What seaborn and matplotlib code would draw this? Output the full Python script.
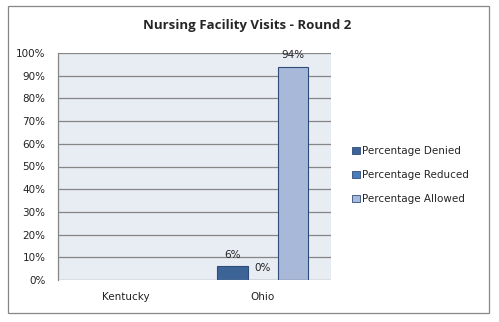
import numpy as np
import pandas as pd
import matplotlib
matplotlib.use("Agg")
import matplotlib.pyplot as plt
import seaborn as sns
from matplotlib.patches import Rectangle, Patch

categories = ["Kentucky", "Ohio"]
series = ["Percentage Denied", "Percentage Reduced", "Percentage Allowed"]
denied = [np.nan, 6]
reduced = [np.nan, 0]
allowed = [np.nan, 94]
yticks = [0, 10, 20, 30, 40, 50, 60, 70, 80, 90, 100]

colors = ["#3C6497", "#4A7EBB", "#A7B8D9"]

rows = []
for name, vals in zip(series, [denied, reduced, allowed]):
    for c, v in zip(categories, vals):
        rows.append({"State": c, "Series": name, "Value": v})
df = pd.DataFrame(rows)

sns.set_theme(style="white")
plt.rcParams['font.family'] = ['DejaVu Sans']

fig = plt.figure(figsize=(4.99, 3.22), dpi=100)
ax = fig.add_axes([58/499, 1-280/322, (331-58)/499, (280-53)/322])
ax.set_facecolor("#E8ECF3")

sns.barplot(data=df, x="State", y="Value", hue="Series", order=categories,
            hue_order=series, palette=colors, width=0.67, ax=ax,
            edgecolor="#2E4C7A", linewidth=0.8, legend=False, errorbar=None,
            saturation=1)

ax.set_ylim(0, 100)
ax.set_xlim(-0.5, 1.5)
ax.set_yticks(yticks)
ax.set_yticklabels([f"{t}%" for t in yticks], fontsize=7.5, color="#222222")
ax.tick_params(axis="y", length=0, pad=9)
ax.tick_params(axis="x", length=0, pad=9, labelsize=7.5, labelcolor="#222222")
ax.set_xlabel("")
ax.set_ylabel("")
for y in yticks[1:]:
    ax.axhline(y, color="#868686", lw=0.9, zorder=0.5)
for s in ["top", "right", "bottom"]:
    ax.spines[s].set_visible(False)
ax.spines["left"].set_color("#868686")
ax.spines["left"].set_linewidth(0.9)
ax.axhline(0, color="#868686", lw=0.9, zorder=3)

# value labels
for cont in ax.containers:
    for bar in cont:
        h = bar.get_height()
        if np.isnan(h):
            continue
        ax.text(bar.get_x() + bar.get_width()/2,
                h + 3.0, f"{h:.0f}%", ha="center", va="bottom",
                fontsize=7.5, color="#222222")

fig.text(0.495, 1-26/322, "Nursing Facility Visits - Round 2", ha="center",
         va="center", fontsize=9.5, fontweight="bold", family="Open Sans")

handles = [Patch(facecolor=c, edgecolor="#2E4C7A", linewidth=0.6) for c in colors]
fig.legend(handles, series, loc="center left", bbox_to_anchor=(343/499, 1-175/322),
           frameon=False, fontsize=7.5, handlelength=0.7, handleheight=0.7,
           handletextpad=0.25, labelspacing=1.35)

fig.patches.append(Rectangle((8/499, 1-313/322), 481/499, 307/322,
                             transform=fig.transFigure, fill=False,
                             edgecolor="#868686", lw=0.9))
fig.savefig("out.png", dpi=100)
